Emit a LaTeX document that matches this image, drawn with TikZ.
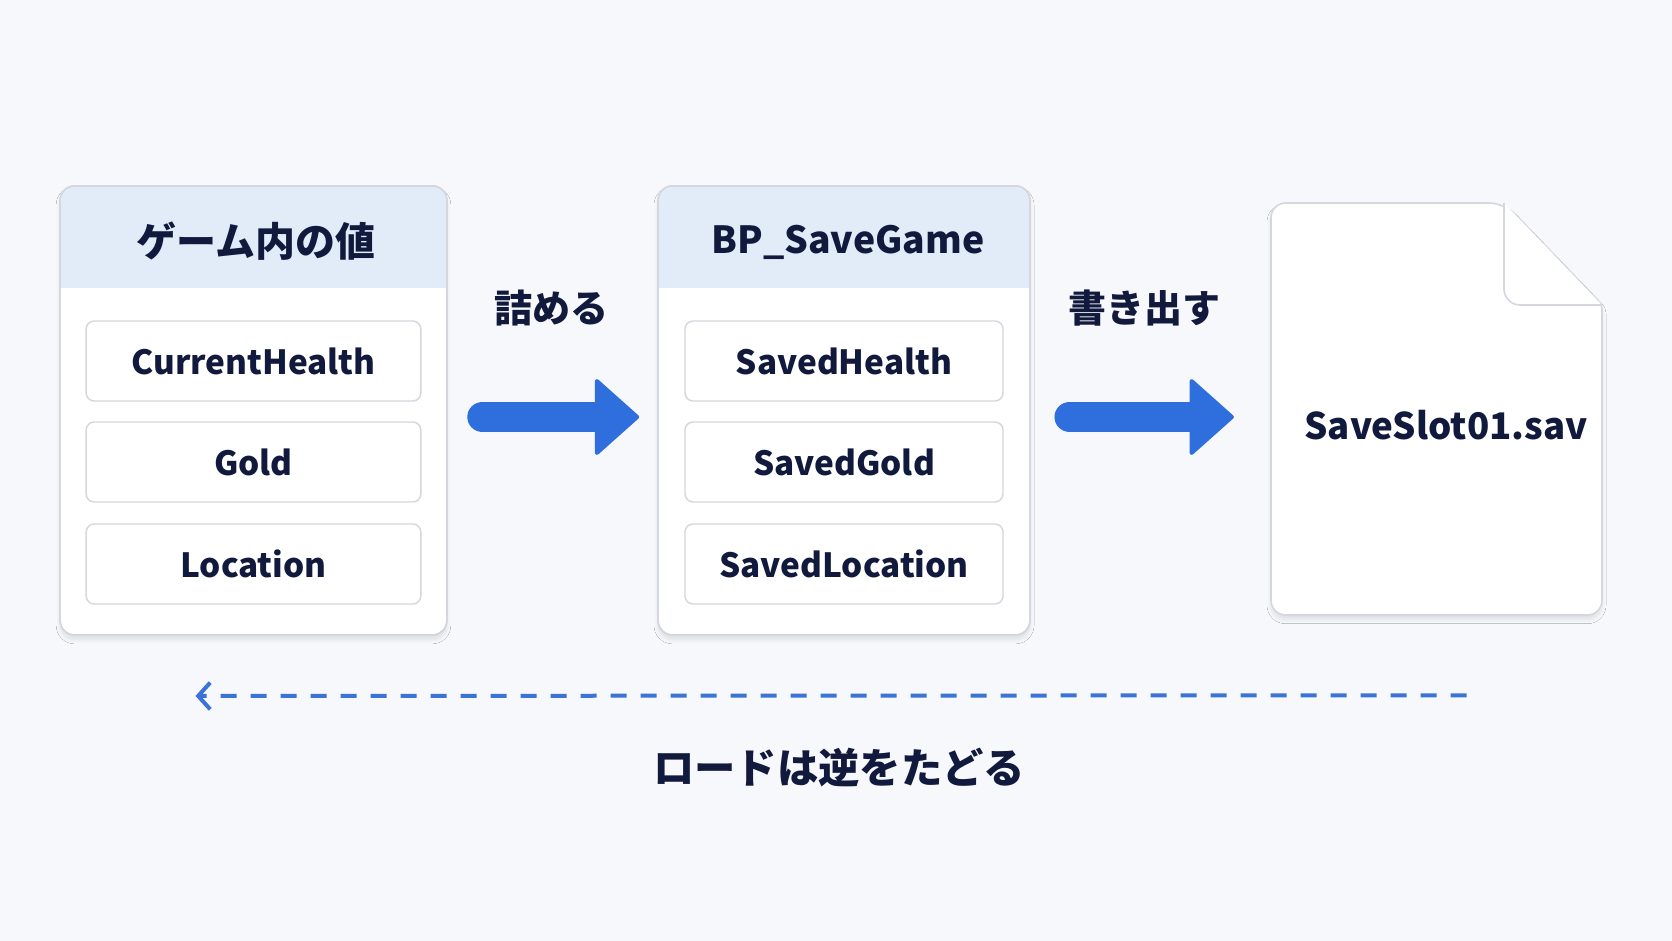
\documentclass[tikz,border=0pt]{standalone}
\usepackage{fontspec}
\setmainfont{Noto Sans CJK JP}
\usetikzlibrary{arrows.meta,calc,shadows.blur}
\definecolor{bg}{HTML}{F7F8FB}
\definecolor{hdr}{HTML}{E2EBF8}
\definecolor{edge}{HTML}{D4D7DD}
\definecolor{ink}{HTML}{111A3D}
\definecolor{arrowblue}{HTML}{2F6EDD}
\definecolor{dashblue}{HTML}{3B73D6}
\tikzset{
  softshadow/.style={blur shadow={shadow xshift=0pt, shadow yshift=-3.5pt, shadow blur radius=3pt, shadow opacity=10, shadow blur steps=8}},
  panel/.style={draw=edge, line width=1.2pt, fill=white, rounded corners=11pt, softshadow},
  rowbox/.style={draw=edge, line width=1.1pt, fill=white, rounded corners=6pt,
    minimum width=251pt, minimum height=60pt, inner sep=0pt},
  rowtxt/.style={text=ink, font=\bfseries\fontsize{25}{30}\selectfont},
  hdrtxt/.style={text=ink, font=\bfseries\fontsize{30}{34}\selectfont},
  lbltxt/.style={text=ink, font=\bfseries\fontsize{28.5}{32}\selectfont},
  blockarrow/.style={draw=arrowblue, line width=23pt, line cap=round,
    -{Triangle[length=34pt, width=60pt, round, line width=3pt]}},
}
\begin{document}
\begin{tikzpicture}[x=0.75pt, y=-0.75pt]
\useasboundingbox (0,0) rectangle (1672,941);
\fill[bg] (0,0) rectangle (1672,941);

% left panel
\node[panel, minimum width=290pt, minimum height=337pt, inner sep=0pt] (p1) at (253.5,410.5) {};
\begin{scope}
  \clip[rounded corners=11pt] (60,186) rectangle (447,635);
  \fill[hdr] (60,186) rectangle (447,288);
\end{scope}
\draw[draw=edge, line width=1.2pt, rounded corners=11pt] (60,186) rectangle (447,635);
\node[hdrtxt] (h1) at (256,241) {ゲーム内の値};
\node[rowbox] (r11) at (253.5,361) {};
\node[rowtxt] at (r11) {CurrentHealth};
\node[rowbox] (r12) at (253.5,462) {};
\node[rowtxt] at (r12) {Gold};
\node[rowbox] (r13) at (253.5,564) {};
\node[rowtxt] at (r13) {Location};

% middle panel
\node[panel, minimum width=279pt, minimum height=337pt, inner sep=0pt] (p2) at (844,410.5) {};
\begin{scope}
  \clip[rounded corners=11pt] (658,186) rectangle (1030,635);
  \fill[hdr] (658,186) rectangle (1030,288);
\end{scope}
\draw[draw=edge, line width=1.2pt, rounded corners=11pt] (658,186) rectangle (1030,635);
\node[hdrtxt, font=\bfseries\fontsize{28}{32}\selectfont] (h2) at (848,242) {BP\_SaveGame};
\node[rowbox, minimum width=238.5pt] (r21) at (844,361) {};
\node[rowtxt] at (r21) {SavedHealth};
\node[rowbox, minimum width=238.5pt] (r22) at (844,462) {};
\node[rowtxt] at (r22) {SavedGold};
\node[rowbox, minimum width=238.5pt] (r23) at (844,564) {};
\node[rowtxt] at (r23) {SavedLocation};

% file
\filldraw[draw=edge, line width=1.2pt, fill=white, rounded corners=11pt, softshadow]
  (1271,203) -- (1504,203) [rounded corners=3pt] -- (1602,305) [rounded corners=11pt] -- (1602,615) -- (1271,615) -- cycle;
\draw[draw=edge, line width=1.2pt, fill=white, rounded corners=12pt]
  (1504,203) -- (1504,305) -- (1602,305);
\node[inner sep=0pt, minimum width=248pt, minimum height=309pt] (file) at (1436.5,409) {};
\node[text=ink, font=\bfseries\fontsize{27.5}{32}\selectfont] (fn) at (1446,425) {SaveSlot01.sav};

% block arrows
\draw[blockarrow] ($(p1.east)+(35,6.5)$) -- ($(p2.west)+(-18,6.5)$);
\draw[blockarrow] ($(p2.east)+(39,6.5)$) -- ($(file.west)+(-37,8)$);
\node[lbltxt] (l1) at (551,308) {詰める};
\node[lbltxt] (l2) at (1144,308) {書き出す};

% dashed load arrow
\coordinate (ds) at ($(file.south)+(30,80)$);
\coordinate (de) at ($(p1.south)+(-58,60)$);
\draw[dashblue, line width=3pt, dash pattern=on 12pt off 10.5pt,
  -{Straight Barb[length=9pt, width=20pt, line width=3pt]}] (ds) -- (de);
\node[text=ink, font=\bfseries\fontsize{31}{36}\selectfont] (load) at (839,768) {ロードは逆をたどる};
\end{tikzpicture}
\end{document}
